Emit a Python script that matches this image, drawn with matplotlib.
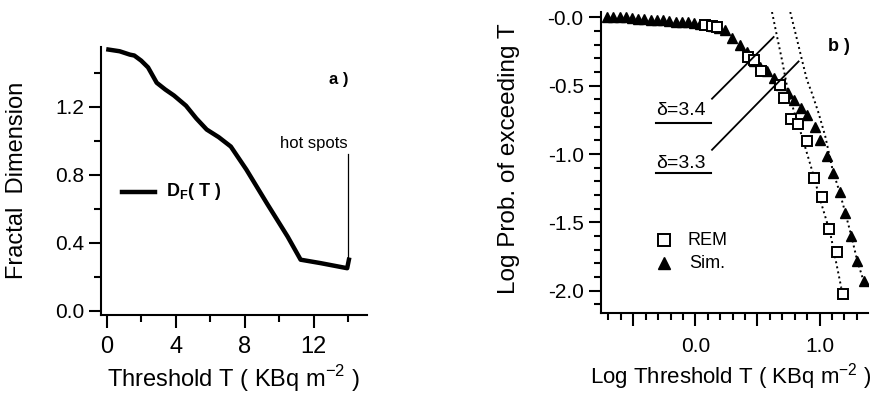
import matplotlib
matplotlib.use("Agg")
import matplotlib.pyplot as plt
from matplotlib.ticker import MultipleLocator, FixedLocator, FixedFormatter

plt.rcParams['font.family'] = ['Liberation Sans', 'DejaVu Sans']

# ---- panel a data ----
thr_T = [0.1, 0.75, 1.35, 1.6, 2.0, 2.4, 2.9, 3.4, 3.9, 4.6, 5.2, 5.8, 6.5, 7.2,
         8.1, 9.3, 10.5, 11.25, 12.4, 13.95, 14.05]
frac_dim = [1.535, 1.525, 1.505, 1.50, 1.47, 1.43, 1.34, 1.30, 1.265, 1.205, 1.13,
            1.065, 1.02, 0.965, 0.83, 0.63, 0.435, 0.30, 0.28, 0.25, 0.30]
a_xticks = [0, 4, 8, 12]
a_yticks = [0.0, 0.4, 0.8, 1.2]

# ---- panel b data ----
sim_x = [-0.71, -0.66, -0.61, -0.56, -0.51, -0.46, -0.41, -0.36, -0.31, -0.26, -0.21,
         -0.16, -0.11, -0.06, -0.01, 0.04, 0.09, 0.14, 0.19, 0.24, 0.295, 0.36, 0.416,
         0.47, 0.52, 0.577, 0.635, 0.69, 0.745, 0.795, 0.85, 0.90, 0.965, 1.006, 1.06,
         1.106, 1.162, 1.207, 1.256, 1.303, 1.358]
sim_y = [0.0, 0.0, 0.0, 0.0, -0.005, -0.01, -0.01, -0.015, -0.02, -0.02, -0.025,
         -0.03, -0.03, -0.035, -0.04, -0.045, -0.05, -0.06, -0.075, -0.095, -0.15, -0.20, -0.255,
         -0.32, -0.36, -0.39, -0.445, -0.495, -0.55, -0.605, -0.66, -0.715, -0.80, -0.895, -1.015,
         -1.139, -1.28, -1.432, -1.60, -1.78, -1.933]
rem_x = [0.08, 0.13, 0.175, 0.42, 0.47, 0.53, 0.685, 0.712, 0.768, 0.829, 0.896,
         0.958, 1.022, 1.074, 1.137, 1.191]
rem_y = [-0.053, -0.065, -0.072, -0.29, -0.315, -0.39, -0.495, -0.59, -0.74, -0.783, -0.902,
         -1.173, -1.318, -1.55, -1.719, -2.024]
fit_rem_x = [0.617, 0.66, 0.697, 0.737, 0.79, 0.858, 0.938, 1.01, 1.086, 1.175]
fit_rem_y = [0.04, -0.15, -0.31, -0.50, -0.675, -0.87, -1.115, -1.35, -1.58, -1.98]
fit_sim_x = [0.764, 0.81, 0.858, 0.898, 0.938, 0.992, 1.046, 1.106, 1.162, 1.207, 1.256, 1.303, 1.365]
fit_sim_y = [0.04, -0.13, -0.31, -0.456, -0.553, -0.70, -0.871, -1.12, -1.28, -1.43, -1.60, -1.78, -1.96]
b_yticks = [0.0, -0.5, -1.0, -1.5, -2.0]
b_ylabels = ['-0.0', '-0.5', '-1.0', '-1.5', '-2.0']
b_xticks = [-0.5, 0.0, 0.5, 1.0]
b_xlabels = ['', '0.0', '', '1.0']

fig = plt.figure(figsize=(8.83, 3.94), dpi=100)

# ================= panel a =================
ax1 = fig.add_axes([101/883, 1-315/394, 266/883, 268/394])
ax1.plot(thr_T, frac_dim, color='black', lw=3.2, solid_joinstyle='round')
ax1.set_xlim(-0.33, 15.1)
ax1.set_ylim(-0.025, 1.55)
for s in ['top', 'right']:
    ax1.spines[s].set_visible(False)
for s in ['left', 'bottom']:
    ax1.spines[s].set_linewidth(1.5)
ax1.xaxis.set_major_locator(FixedLocator(a_xticks))
ax1.xaxis.set_minor_locator(MultipleLocator(2))
ax1.yaxis.set_major_locator(FixedLocator(a_yticks))
ax1.yaxis.set_minor_locator(MultipleLocator(0.2))
ax1.yaxis.set_major_formatter(FixedFormatter(['%.1f' % v for v in a_yticks]))
ax1.tick_params(which='major', direction='out', length=9, width=1.5)
ax1.tick_params(which='minor', direction='out', length=5, width=1.5)
ax1.tick_params(axis='x', labelsize=17, pad=6)
ax1.tick_params(axis='y', labelsize=15, pad=3)
ax1.set_xlabel('Threshold T ( KBq m$^{\\mathregular{-2}}$ )', fontsize=17)
ax1.set_ylabel('Fractal  Dimension', fontsize=17)
ax1.xaxis.set_label_coords(0.496, -0.18)
ax1.yaxis.set_label_coords(-0.274, 0.504)
ax1.text(13.45, 1.36, 'a )', fontsize=12, fontweight='bold', ha='center', va='center')
ax1.text(13.97, 0.98, 'hot spots', fontsize=12, ha='right', va='center')
ax1.plot([14.0, 14.0], [0.92, 0.30], color='black', lw=0.9)
ax1.plot([0.87, 2.8], [0.70, 0.70], color='black', lw=3.2)
ax1.text(3.43, 0.70, 'D$_\\mathregular{F}$( T )', fontsize=13, fontweight='bold', va='center', ha='left')

# ================= panel b =================
ax2 = fig.add_axes([601/883, 1-313/394, 267/883, 301/394])
ax2.plot(fit_rem_x, fit_rem_y, color='black', lw=1.4, ls=':')
ax2.plot(fit_sim_x, fit_sim_y, color='black', lw=1.4, ls=':')
ax2.plot(sim_x, sim_y, ls='none', marker='^', ms=7, color='black')
ax2.plot(rem_x, rem_y, ls='none', marker='s', ms=6.5, mfc='white', mec='black', mew=1.4)
ax2.set_xlim(-0.76, 1.39)
ax2.set_ylim(-2.164, 0.04)
for s in ['top', 'right']:
    ax2.spines[s].set_visible(False)
for s in ['left', 'bottom']:
    ax2.spines[s].set_linewidth(1.5)
ax2.xaxis.set_major_locator(FixedLocator(b_xticks))
ax2.xaxis.set_major_formatter(FixedFormatter(b_xlabels))
ax2.xaxis.set_minor_locator(MultipleLocator(0.1))
ax2.yaxis.set_major_locator(FixedLocator(b_yticks))
ax2.yaxis.set_major_formatter(FixedFormatter(b_ylabels))
ax2.yaxis.set_minor_locator(MultipleLocator(0.1))
ax2.tick_params(which='major', direction='out', length=9, width=1.5, labelsize=15)
ax2.tick_params(which='minor', direction='out', length=5, width=1.5)
ax2.tick_params(axis='x', pad=8)
ax2.set_xlabel('Log Threshold T ( KBq m$^{\\mathregular{-2}}$ )', fontsize=16)
ax2.set_ylabel('Log Prob. of exceeding T', fontsize=17.5)
ax2.xaxis.set_label_coords(0.485, -0.16)
ax2.yaxis.set_label_coords(-0.303, 0.513)
ax2.text(1.153, -0.21, 'b )', fontsize=13, fontweight='bold', ha='center', va='center')

# delta annotations
ax2.text(-0.32, -0.683, 'δ=3.4', fontsize=14, ha='left', va='center')
ax2.plot([-0.32, 0.126], [-0.773, -0.773], color='black', lw=1.5)
ax2.plot([0.134, 0.63], [-0.595, -0.143], color='black', lw=1.3)
ax2.text(-0.32, -1.066, 'δ=3.3', fontsize=14, ha='left', va='center')
ax2.plot([-0.32, 0.126], [-1.139, -1.139], color='black', lw=1.5)
ax2.plot([0.134, 0.831], [-0.969, -0.322], color='black', lw=1.3)

# legend
ax2.plot([-0.255], [-1.633], ls='none', marker='s', ms=8, mfc='white', mec='black', mew=1.4)
ax2.text(-0.067, -1.633, 'REM', fontsize=13, ha='left', va='center')
ax2.plot([-0.255], [-1.80], ls='none', marker='^', ms=8, color='black')
ax2.text(-0.05, -1.80, 'Sim.', fontsize=13, ha='left', va='center')

fig.savefig('out.png', dpi=100)
